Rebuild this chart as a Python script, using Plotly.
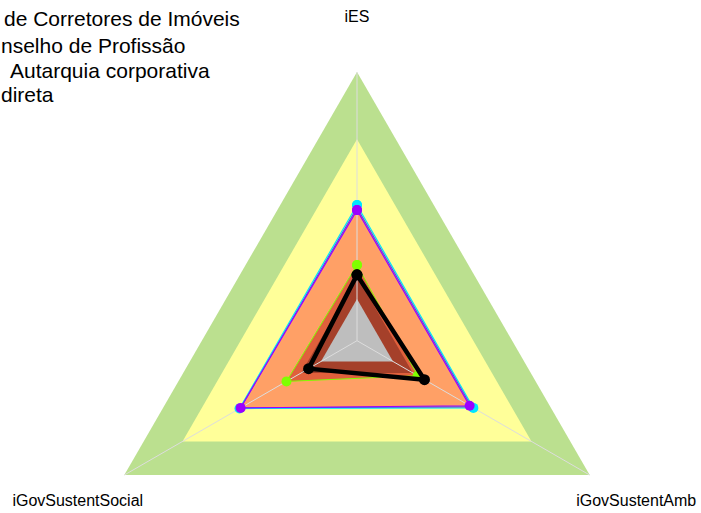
import numpy as np
import plotly.graph_objects as go

# ---- data ----
categories = ["iES", "iGovSustentAmb", "iGovSustentSocial"]
band_levels = [1.0, 0.75, 0.5, 0.24, 0.155]
band_colors = ["#BBE08F", "#FFFF99", "#FFA066", "#A5402A", "#BEBEBE"]

serie_cyan = [0.505, 0.50, 0.505]
serie_blue = [0.495, 0.492, 0.50]
serie_purple = [0.486, 0.484, 0.50]
serie_green = [0.282, 0.261, 0.303]
serie_black = [0.245, 0.29, 0.208]

title_lines = ["de Corretores de Imóveis", "nselho de Profissão", "Autarquia corporativa", "direta"]

# ---- geometry helpers (polar -> plane, clockwise from top) ----
ang = np.deg2rad(90 - 120 * np.arange(len(categories)))


def xy(vals, close=True):
    v = np.asarray(vals, dtype=float)
    x = v * np.cos(ang)
    y = v * np.sin(ang)
    if close:
        x = np.append(x, x[0])
        y = np.append(y, y[0])
    return x, y


fig = go.Figure()

# bands (outer to inner), red fill of green series inserted before brown band
for i, (lev, col) in enumerate(zip(band_levels, band_colors)):
    if i == 3:
        gx, gy = xy(serie_green)
        fig.add_trace(go.Scatter(x=gx, y=gy, fill="toself", fillcolor="#E0603C",
                                 line=dict(width=0), mode="lines", hoverinfo="skip"))
    bx, by = xy([lev] * 3)
    fig.add_trace(go.Scatter(x=bx, y=by, fill="toself", fillcolor=col,
                             line=dict(width=0), mode="lines", hoverinfo="skip"))

# spokes
for a in ang:
    fig.add_trace(go.Scatter(x=[0, np.cos(a)], y=[0, np.sin(a)], mode="lines",
                             line=dict(color="#DDDDDD", width=1), hoverinfo="skip"))

series = [
    (serie_cyan, "#00E5FF", 1.2, 10),
    (serie_blue, "#3355FF", 1, 0),
    (serie_purple, "#9B00FF", 1.2, 10),
    (serie_green, "#80FF00", 1, 10),
    (serie_black, "#000000", 4.5, 11),
]
for vals, col, w, ms in series:
    sx, sy = xy(vals)
    fig.add_trace(go.Scatter(x=sx, y=sy, mode="lines+markers" if ms else "lines",
                             line=dict(color=col, width=w),
                             marker=dict(color=col, size=ms)))

# axis labels at 1.2
lx, ly = xy([1.2] * 3, close=False)
fig.add_trace(go.Scatter(x=lx, y=ly, mode="text", text=categories,
                         textfont=dict(family="Liberation Sans, Arial", size=16, color="#000"),
                         textposition="middle center", hoverinfo="skip"))

W, H = 701, 513
cx, cy, R = 357, 340.7, 268.7
fig.update_xaxes(range=[-cx / R, (W - cx) / R], visible=False, fixedrange=True)
fig.update_yaxes(range=[-(H - cy) / R, cy / R], visible=False, fixedrange=True)

title_x = [2, -1, 8, -1]
title_y = [18, 45, 70, 95]
for t, px, py in zip(title_lines, title_x, title_y):
    fig.add_annotation(text=t, xref="paper", yref="paper", x=px / W, y=1 - py / H,
                       xanchor="left", yanchor="middle", showarrow=False,
                       font=dict(family="Liberation Sans, Arial", size=21, color="#000"))

fig.update_layout(width=W, height=H, margin=dict(l=0, r=0, t=0, b=0),
                  showlegend=False, plot_bgcolor="white", paper_bgcolor="white")
fig.write_html("out.html", config={"displayModeBar": False},
               post_script="document.body.style.margin='0';")
